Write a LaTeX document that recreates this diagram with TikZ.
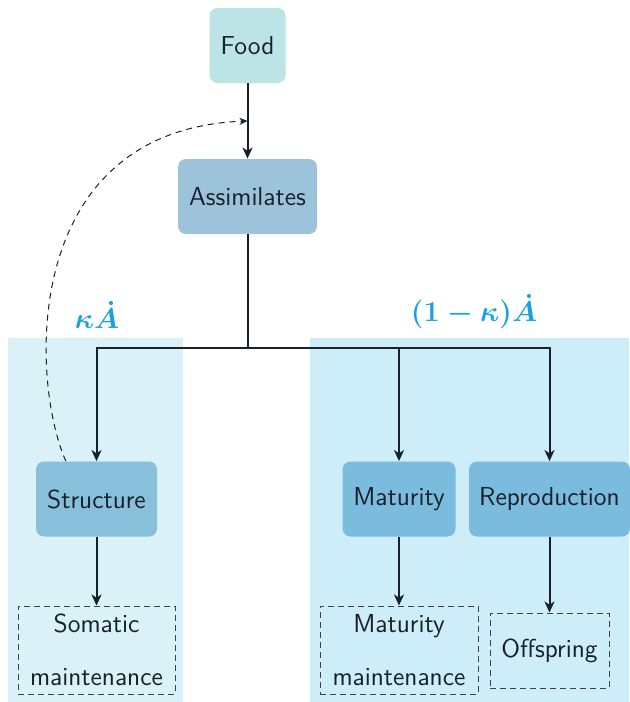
\documentclass[tikz,border=0pt]{standalone}
\usepackage{amsmath}
\usetikzlibrary{arrows.meta}
\definecolor{ink}{HTML}{17212B}
\definecolor{foodc}{HTML}{BCE3E5}
\definecolor{assimc}{HTML}{9DC3DB}
\definecolor{structc}{HTML}{88C0DC}
\definecolor{matc}{HTML}{7BBCDE}
\definecolor{leftbg}{HTML}{D9F1F7}
\definecolor{rightbg}{HTML}{CDEDF9}
\definecolor{labc}{HTML}{1BA1E2}
\tikzset{
  box/.style={rounded corners=4pt, draw=none, minimum height=37.5pt, inner sep=2pt,
    font=\sffamily\fontsize{13}{15}\selectfont, text=ink},
  sinkbox/.style={draw=ink!85, dashed, dash pattern=on 3pt off 2pt, line width=0.5pt,
    align=center, inner sep=2pt, font=\sffamily\fontsize{13}{26.5}\selectfont, text=ink},
  flow/.style={draw=ink, line width=1pt, -{Stealth[length=5.5pt,width=5pt,inset=1.6pt]}},
  plain/.style={draw=ink, line width=1pt},
  lab/.style={text=labc, font=\fontsize{14.5}{16}\selectfont, anchor=base}
}
\begin{document}
\begin{tikzpicture}[x=0.5pt,y=-0.5pt]
\useasboundingbox (0,0) rectangle (629,702);
% backgrounds
\fill[leftbg] (8,338) rectangle (183,702);
\fill[rightbg] (310,338) rectangle (629,702);
% nodes
\node[box, fill=foodc, minimum width=38pt] (food) at (247.5,45.5) {Food};
\node[box, fill=assimc, minimum width=69.5pt] (assim) at (247.5,196.5) {Assimilates};
\node[box, fill=structc, minimum width=60.5pt] (struct) at (96.5,499) {Structure};
\node[box, fill=matc, minimum width=56.5pt] (matur) at (399,499) {Maturity};
\node[box, fill=matc, minimum width=80.5pt] (repro) at (549.5,499) {Reproduction};
\node[sinkbox, minimum width=78.5pt, minimum height=44pt] (soma) at (96.5,650) {Somatic\\maintenance};
\node[sinkbox, minimum width=79pt, minimum height=44pt] (matm) at (399,650) {Maturity\\maintenance};
\node[sinkbox, minimum width=59.5pt, minimum height=37.5pt] (off) at (549.5,650.5) {Offspring};
% labels
\node[lab] (klab) at (97,328) {$\boldsymbol{\kappa\dot{A}}$};
\node[lab] (oklab) at (474,321) {$\boldsymbol{(1-\kappa)\dot{A}}$};
% connectors
\coordinate (split) at (247.5,348);
\coordinate (fb) at (247.5,121);
\draw[flow] (food) -- (assim);
\draw[plain] (assim) -- (split);
\draw[flow] (split) -| (struct);
\draw[flow] (split) -| (matur);
\draw[flow] (split) -| (repro);
\draw[flow] (struct) -- (soma);
\draw[flow] (matur) -- (matm);
\draw[flow] (repro) -- (off);
\draw[draw=ink, line width=0.5pt, dashed, dash pattern=on 3pt off 2.5pt,
  -{Stealth[length=4pt,width=3.5pt,inset=1.2pt]}]
  (struct.129) .. controls (30,380) and (20,130) .. (fb);
\end{tikzpicture}
\end{document}
